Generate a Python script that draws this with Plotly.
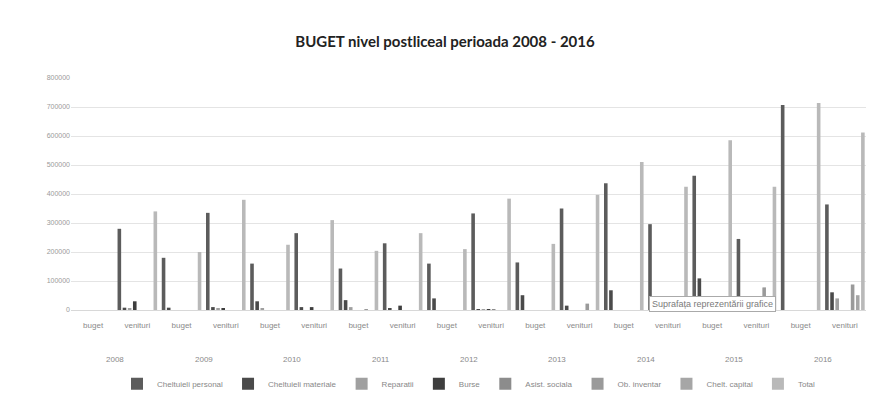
import plotly.graph_objects as go

years = ["2008", "2009", "2010", "2011", "2012", "2013", "2014", "2015", "2016"]
kinds = ["buget", "venituri"]

series_names = ["Cheltuieli personal", "Cheltuieli materiale", "Reparatii", "Burse",
                "Asist. sociala", "Ob. inventar", "Chelt. capital", "Total"]

personal = [0, 280000, 180000, 335000, 160000, 265000, 143000, 230000, 160000, 333000,
            164000, 350000, 437000, 296000, 463000, 245000, 707000, 364000]
materiale = [0, 8000, 8000, 10000, 30000, 10000, 34000, 5000, 40000, 3000,
             51000, 15000, 68000, 3000, 109000, 3000, 0, 61000]
reparatii = [0, 5000, 0, 5000, 5000, 0, 10000, 0, 0, 3000,
             0, 0, 0, 0, 0, 0, 0, 40000]
burse = [0, 30000, 0, 5000, 0, 10000, 0, 15000, 0, 3000,
         0, 0, 0, 0, 0, 0, 0, 0]
asist = [0, 0, 0, 0, 0, 0, 0, 0, 0, 3000,
         0, 0, 0, 0, 0, 0, 0, 0]
obinv = [0, 0, 0, 0, 0, 0, 3000, 0, 0, 0,
         0, 22000, 0, 0, 0, 78000, 0, 88000]
capital = [0, 0, 0, 0, 0, 0, 0, 0, 0, 0,
           0, 0, 0, 0, 0, 0, 0, 51000]
total = [0, 340000, 200000, 380000, 225000, 310000, 204000, 265000, 210000, 384000,
         228000, 397000, 510000, 425000, 585000, 425000, 714000, 612000]

values = [personal, materiale, reparatii, burse, asist, obinv, capital, total]
colors = ["#5c5c5c", "#4a4a4a", "#a0a0a0", "#3e3e3e", "#8c8c8c", "#9a9a9a", "#a6a6a6", "#b9b9b9"]

cats = [f"{y} {k}" for y in years for k in kinds]
cat_text = [k for y in years for k in kinds]

fig = go.Figure()
for name, vals, col in zip(series_names, values, colors):
    fig.add_trace(go.Bar(x=cats, y=vals, name=name, marker_color=col,
                         marker_line_width=0))

L, R, T, B = 63, 15, 70, 97
fig.update_layout(
    width=874, height=402,
    paper_bgcolor="white", plot_bgcolor="white",
    barmode="group", bargap=0.07, bargroupgap=0.3,
    margin=dict(l=L, r=R, t=T, b=B),
    title=dict(text="<b>BUGET nivel postliceal perioada 2008 - 2016</b>",
               x=0.5, xanchor="center", y=0.915, yanchor="middle",
               font=dict(family="Lato", size=15, color="#222222")),
    font=dict(family="Liberation Sans", size=8, color="#8a8a8a"),
    legend=dict(orientation="h", x=0.5, xanchor="center", y=-0.255, yanchor="top",
                font=dict(size=8, color="#888888"), itemwidth=30,
                traceorder="normal"),
    yaxis=dict(range=[0, 800000], dtick=100000, tickformat="d",
               showgrid=True, gridcolor="#e4e4e4", gridwidth=1,
               zeroline=False, showline=False, ticks="",
               tickfont=dict(size=7, color="#9a9a9a")),
    xaxis=dict(type="category", categoryorder="array", categoryarray=cats,
               tickvals=cats, ticktext=cat_text,
               showline=True, linecolor="#d8d8d8", ticks="outside", ticklen=7,
               tickcolor="rgba(0,0,0,0)",
               tickfont=dict(size=8, color="#8a8a8a")),
)

for i, yr in enumerate(years):
    fig.add_annotation(text=yr, x=2 * i + 0.5, xref="x", y=-0.215, yref="paper",
                       showarrow=False, yanchor="middle",
                       font=dict(size=8, color="#8a8a8a"))

fig.add_annotation(text="Suprafața reprezentării grafice",
                   x=(704 - L) / (874 - L - R), y=(305 - 299) / (305 - 70),
                   xref="paper", yref="paper", showarrow=False,
                   xanchor="center", yanchor="middle",
                   font=dict(size=9, color="#7a7a7a"),
                   bgcolor="white", bordercolor="#aaaaaa", borderwidth=1, borderpad=2)

fig.write_html("out.html")
